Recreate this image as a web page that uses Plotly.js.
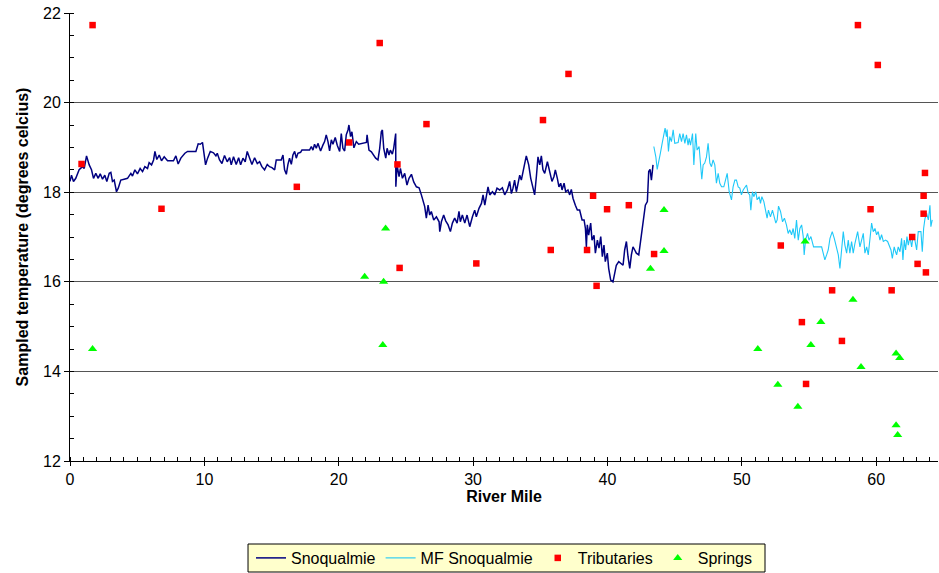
<!DOCTYPE html>
<html>
<head>
<meta charset="utf-8">
<script src="https://cdn.plot.ly/plotly-3.0.1.min.js"></script>
<style>html,body{margin:0;padding:0;background:#fff;}#chart{width:939px;height:573px;}</style>
</head>
<body>
<div id="chart"></div>
<script>
// [river mile, temperature °C]
const snoqualmie = [
[0.00,18.24],[0.11,18.38],[0.26,18.24],[0.43,18.31],[0.68,18.50],[0.93,18.57],[1.06,18.53],[1.23,18.81],[1.43,18.61],[1.60,18.50],
[1.75,18.31],[1.92,18.42],[2.10,18.31],[2.25,18.41],[2.42,18.29],[2.59,18.38],[2.74,18.24],[2.92,18.42],[3.04,18.44],[3.16,18.24],
[3.29,18.27],[3.46,18.01],[3.59,18.09],[3.78,18.27],[4.03,18.29],[4.28,18.31],[4.53,18.42],[4.65,18.36],[4.83,18.50],[5.02,18.41],
[5.22,18.53],[5.40,18.46],[5.57,18.57],[5.77,18.53],[5.89,18.66],[6.07,18.61],[6.22,18.72],[6.32,18.91],[6.46,18.73],[6.64,18.83],
[6.81,18.70],[7.01,18.79],[7.26,18.70],[7.70,18.70],[7.88,18.81],[8.05,18.63],[8.25,18.76],[8.37,18.81],[8.55,18.87],[8.75,18.91],
[9.37,18.91],[9.54,19.08],[9.69,19.07],[9.86,19.11],[9.99,18.87],[10.09,18.61],[10.24,18.76],[10.44,18.91],[10.68,18.88],[10.86,18.81],
[10.96,18.87],[11.13,18.72],[11.31,18.64],[11.50,18.82],[11.70,18.68],[11.88,18.77],[12.00,18.61],[12.17,18.79],[12.37,18.62],[12.55,18.77],
[12.70,18.61],[12.87,18.76],[13.04,18.68],[13.19,18.91],[13.37,18.76],[13.54,18.62],[13.74,18.77],[13.94,18.64],[14.11,18.68],[14.28,18.57],
[14.48,18.50],[14.68,18.62],[14.85,18.57],[15.03,18.55],[15.23,18.50],[15.35,18.72],[15.72,18.72],[15.85,18.83],[15.97,18.50],[16.10,18.40],
[16.22,18.62],[16.34,18.76],[16.47,18.62],[16.59,18.83],[16.72,18.91],[16.84,18.76],[16.96,18.87],[17.16,18.89],[17.26,18.94],[17.83,18.94],
[17.96,19.02],[18.08,18.94],[18.20,19.07],[18.33,18.98],[18.45,19.09],[18.65,18.92],[18.82,19.05],[18.95,19.13],[19.07,19.28],[19.20,19.13],
[19.32,18.92],[19.45,19.17],[19.57,19.07],[19.74,19.22],[19.89,19.05],[20.07,18.91],[20.19,19.31],[20.31,18.98],[20.44,18.92],[20.56,19.28],
[20.69,19.39],[20.76,19.50],[20.88,19.24],[20.98,19.35],[21.13,18.99],[21.31,19.13],[21.48,19.07],[22.06,19.11],[22.11,19.28],[22.25,18.94],
[22.43,18.90],[22.60,18.83],[22.75,18.76],[22.92,18.72],[23.05,18.98],[23.17,19.35],[23.25,19.39],[23.35,18.98],[23.50,18.76],[23.60,18.98],
[23.74,18.83],[23.84,18.94],[23.99,18.85],[24.09,18.98],[24.24,19.31],[24.25,18.12],[24.34,18.61],[24.49,18.35],[24.59,18.53],[24.74,18.31],
[24.91,18.42],[25.08,18.16],[25.23,18.31],[25.41,18.40],[25.58,18.23],[25.78,18.12],[25.98,18.10],[26.15,17.94],[26.27,17.83],[26.40,17.68],
[26.52,17.42],[26.65,17.71],[26.77,17.49],[26.89,17.57],[27.07,17.38],[27.27,17.45],[27.47,17.34],[27.52,17.12],[27.64,17.34],[27.81,17.49],
[27.96,17.36],[28.14,17.27],[28.31,17.12],[28.46,17.31],[28.63,17.42],[28.81,17.31],[28.95,17.57],[29.05,17.34],[29.20,17.49],[29.38,17.31],
[29.55,17.49],[29.75,17.23],[29.95,17.45],[30.12,17.60],[30.24,17.45],[30.44,17.64],[30.62,17.75],[30.74,17.94],[30.87,17.71],[30.99,17.90],
[31.11,18.12],[31.24,17.94],[31.44,18.01],[31.61,17.94],[31.78,18.09],[31.98,18.05],[32.18,18.10],[32.35,17.94],[32.55,18.05],[32.72,18.24],
[32.85,17.97],[32.97,18.09],[33.09,18.27],[33.22,18.01],[33.34,18.20],[33.47,18.38],[33.59,18.27],[33.71,18.42],[33.84,18.64],[33.96,18.81],
[34.14,18.61],[34.29,18.31],[34.38,18.20],[34.58,17.94],[34.71,18.35],[34.83,18.79],[34.96,18.61],[35.08,18.81],[35.20,18.50],[35.33,18.42],
[35.53,18.68],[35.70,18.42],[35.87,18.24],[36.02,18.35],[36.12,18.50],[36.27,18.31],[36.39,18.12],[36.52,18.20],[36.62,18.05],[36.77,18.20],
[36.89,18.01],[37.06,18.05],[37.19,17.94],[37.31,18.06],[37.44,17.86],[37.61,17.71],[37.76,17.60],[37.93,17.60],[38.11,17.38],[38.26,17.38],
[38.36,17.19],[38.43,16.78],[38.50,17.27],[38.60,17.04],[38.75,17.31],[38.85,16.93],[39.00,17.04],[39.10,16.64],[39.25,16.93],[39.37,16.75],
[39.50,17.01],[39.62,16.56],[39.74,16.82],[39.84,16.45],[39.99,16.64],[40.09,16.30],[40.24,16.04],[40.41,16.00],[40.54,16.19],[40.66,16.37],
[40.84,16.45],[40.99,16.41],[41.16,16.37],[41.28,16.71],[41.41,16.90],[41.53,16.56],[41.66,16.30],[41.78,16.60],[41.90,16.78],[42.03,16.71],
[42.15,16.64],[42.33,16.60],[42.47,16.93],[42.57,17.23],[42.72,17.49],[42.82,17.71],[42.97,17.79],[43.02,18.12],[43.07,18.46],[43.17,18.51],
[43.27,18.27],[43.39,18.61]
];
const mfSnoqualmie = [
[43.45,19.02],[43.60,18.79],[43.70,18.51],[43.84,18.68],[43.94,18.87],[44.07,19.09],[44.19,19.28],[44.29,19.43],[44.39,19.24],[44.44,19.40],
[44.54,18.91],[44.64,19.24],[44.76,19.13],[44.89,19.39],[45.01,19.09],[45.26,19.11],[45.38,19.31],[45.51,19.13],[45.63,19.31],[45.76,19.09],
[45.88,19.28],[46.00,19.05],[46.08,19.20],[46.18,19.05],[46.33,19.31],[46.43,18.61],[46.57,19.31],[46.67,18.94],[46.82,19.02],[46.92,18.72],
[47.02,18.29],[47.12,18.61],[47.24,18.65],[47.37,18.79],[47.49,19.09],[47.62,18.65],[47.74,18.57],[47.86,18.72],[47.99,18.61],[48.11,18.20],
[48.24,18.42],[48.36,18.20],[48.49,18.12],[48.66,18.12],[48.81,18.29],[48.91,18.42],[49.06,18.01],[49.23,17.83],[49.35,18.12],[49.48,18.27],
[49.60,18.27],[49.73,18.12],[49.85,18.09],[49.97,17.94],[50.10,18.05],[50.22,18.12],[50.35,18.16],[50.47,17.98],[50.59,17.94],[50.67,17.60],
[50.79,18.01],[50.89,17.90],[51.04,18.01],[51.14,17.83],[51.29,17.90],[51.39,17.75],[51.49,17.90],[51.64,17.79],[51.79,17.60],[51.88,17.42],
[51.98,17.60],[52.13,17.45],[52.28,17.60],[52.38,17.45],[52.53,17.31],[52.63,17.38],[52.73,17.69],[52.88,17.57],[53.03,17.34],[53.17,17.42],
[53.32,17.27],[53.45,17.08],[53.57,17.16],[53.70,17.05],[53.82,17.19],[53.94,16.97],[54.07,17.38],[54.20,16.93],[54.32,17.19],[54.45,17.27],
[54.57,17.01],[54.64,16.60],[54.74,16.93],[54.89,17.08],[55.00,16.93],[55.14,17.01],[55.24,16.90],[55.34,16.78],[55.94,16.78],[56.06,16.64],
[56.18,16.49],[56.31,16.60],[56.43,16.71],[56.56,16.97],[56.73,17.12],[56.88,16.97],[57.05,16.78],[57.18,16.60],[57.30,16.30],[57.42,16.71],
[57.55,17.12],[57.67,16.82],[57.80,16.64],[57.92,16.93],[58.04,16.64],[58.17,16.90],[58.29,16.64],[58.42,16.86],[58.62,17.12],[58.79,16.78],
[58.91,16.93],[59.04,17.08],[59.16,16.64],[59.29,16.78],[59.41,16.60],[59.53,17.01],[59.66,17.31],[59.78,17.12],[59.91,17.19],[60.03,17.05],
[60.15,17.12],[60.28,16.93],[60.40,17.05],[60.53,16.90],[60.70,16.93],[60.85,16.90],[60.95,16.82],[61.10,16.71],[61.20,16.52],[61.34,16.78],
[61.44,16.67],[61.52,16.60],[61.64,16.78],[61.77,16.67],[61.89,16.97],[61.99,16.49],[62.09,16.93],[62.19,16.71],[62.29,17.01],[62.39,16.82],
[62.51,17.01],[62.64,16.78],[62.76,17.05],[62.88,16.93],[63.01,16.71],[63.13,17.12],[63.33,17.12],[63.43,16.67],[63.53,17.19],[63.63,17.41],
[63.75,17.53],[63.88,17.38],[64.00,17.71],[64.07,17.23],[64.17,17.38]
];
const tributaries = [
[0.86,18.63],[1.68,21.73],[6.81,17.63],[16.88,18.12],[20.78,19.11],[23.05,21.33],[24.37,18.62],[24.53,16.31],[26.53,19.52],[30.24,16.41],
[35.20,19.61],[35.78,16.71],[37.10,20.64],[38.48,16.71],[38.93,17.92],[39.19,15.91],[39.97,17.62],[41.59,17.71],[43.47,16.62],[52.90,16.81],
[54.47,15.10],[54.78,13.72],[56.72,15.81],[57.45,14.68],[58.64,21.73],[59.58,17.62],[60.12,20.84],[61.15,15.81],[62.68,17.00],[63.08,16.40],
[63.53,17.52],[63.53,17.92],[63.63,18.43],[63.70,16.21]
];
const springs = [
[1.68,14.50],[21.93,16.11],[23.28,14.59],[23.34,16.00],[23.49,17.19],[43.20,16.29],[44.21,16.69],[44.21,17.60],[51.19,14.50],[52.68,13.70],
[54.17,13.21],[54.71,16.90],[55.14,14.59],[55.88,15.10],[58.27,15.60],[58.87,14.10],[61.48,14.40],[61.75,14.30],[61.48,12.80],[61.60,12.58]
];
const xTicks = [0,10,20,30,40,50,60];
const yTicks = [12,14,16,18,20,22];

const col = (a,i) => a.map(p => p[i]);
const FONT = 'Liberation Sans, Arial, sans-serif';

const data = [
  {name:'Snoqualmie', x:col(snoqualmie,0), y:col(snoqualmie,1), mode:'lines', type:'scatter',
   line:{color:'#000080', width:1.5}},
  {name:'MF Snoqualmie', x:col(mfSnoqualmie,0), y:col(mfSnoqualmie,1), mode:'lines', type:'scatter',
   line:{color:'#1EC8F8', width:1.1}},
  {name:'Tributaries', x:col(tributaries,0), y:col(tributaries,1), mode:'markers', type:'scatter',
   marker:{symbol:'square', size:6.5, color:'#FF0000'}},
  {name:'Springs', x:col(springs,0), y:col(springs,1), mode:'markers', type:'scatter',
   marker:{symbol:'triangle-up', size:8, color:'#00FF00'}}
];

const layout = {
  width:939, height:573,
  margin:{l:70, r:1, t:13, b:112, autoexpand:false},
  paper_bgcolor:'#ffffff', plot_bgcolor:'#ffffff',
  font:{family:FONT, size:16, color:'#000'},
  showlegend:true,
  xaxis:{
    range:[0,64.6], tickvals:xTicks, ticktext:xTicks.map(String), automargin:false,
    ticks:'outside', ticklen:4, tickcolor:'#000', showline:true, linecolor:'#000', linewidth:1,
    showgrid:false, zeroline:false,
    minor:{dtick:1, ticks:'inside', ticklen:4, tickcolor:'#000', showgrid:false},
    tickfont:{family:FONT, size:16},
    title:{text:'<b>River Mile</b>', font:{family:FONT, size:16}, standoff:0}
  },
  yaxis:{
    range:[12,22], tickvals:yTicks, ticktext:yTicks.map(String), automargin:false,
    ticks:'outside', ticklen:5, tickcolor:'#000', showline:true, linecolor:'#000', linewidth:1,
    showgrid:true, gridcolor:'#555555', gridwidth:1, zeroline:false,
    minor:{dtick:0.5, ticks:'inside', ticklen:4, tickcolor:'#000', showgrid:false},
    tickfont:{family:FONT, size:16},
    title:{text:'<b>Sampled temperature (degrees celcius)</b>', font:{family:FONT, size:16}, standoff:10}
  },
  shapes:[{
    type:'rect', xref:'paper', yref:'paper', layer:'below',
    x0:0.2051, x1:0.8007, y0:-0.1853, y1:-0.2478,
    fillcolor:'#FFFFCC', line:{color:'#000', width:1}
  }],
  legend:{
    orientation:'h', x:0.5, xanchor:'center', y:-0.2165, yanchor:'middle',
    bgcolor:'rgba(0,0,0,0)', borderwidth:0,
    font:{family:FONT, size:16}, itemwidth:30, tracegroupgap:0
  }
};

Plotly.newPlot('chart', data, layout, {displayModeBar:false, staticPlot:true});
</script>
</body>
</html>
